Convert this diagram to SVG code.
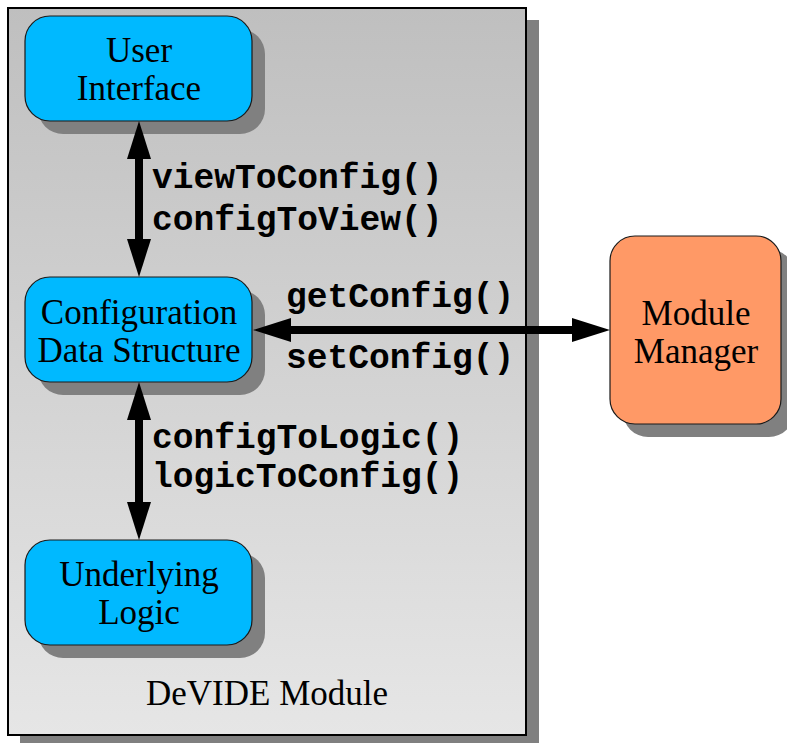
<svg xmlns="http://www.w3.org/2000/svg" width="787" height="743" viewBox="0 0 787 743">
<style>
.node{stroke:#1a1a1a;stroke-width:1.2}
.blue{fill:#00b9ff}
.orange{fill:#ff9966}
.shadow{fill:#808080}
.lbl{font-family:"Liberation Serif","Times New Roman",serif;font-size:35px;fill:#000;text-anchor:middle}
.code{font-family:"Liberation Mono","Courier New",monospace;font-size:34.6px;font-weight:bold;fill:#000}
.conn{stroke:#000;stroke-width:8;fill:none}
</style>
<defs>
<linearGradient id="bg" x1="0" y1="0" x2="0" y2="1">
<stop offset="0" stop-color="#bfbfbf"/>
<stop offset="1" stop-color="#e6e6e6"/>
</linearGradient>
</defs>
<rect width="787" height="743" fill="#fff"/>
<g id="devide-module">
<rect class="shadow" x="20" y="20" width="519" height="723"/>
<rect x="8" y="8" width="518" height="727" fill="url(#bg)" stroke="#000" stroke-width="2"/>
<text class="lbl" x="267" y="705">DeVIDE Module</text>
</g>
<g id="user-interface">
<rect class="shadow" x="38" y="29" width="227" height="105" rx="25"/>
<rect class="node blue" x="25" y="16" width="227" height="105" rx="25"/>
<text class="lbl" x="139" y="62">User</text>
<text class="lbl" x="139" y="100">Interface</text>
</g>
<g id="config-data-structure">
<rect class="shadow" x="38" y="290" width="227" height="105" rx="25"/>
<rect class="node blue" x="25" y="277" width="227" height="105" rx="25"/>
<text class="lbl" x="139" y="324">Configuration</text>
<text class="lbl" x="139" y="362">Data Structure</text>
</g>
<g id="underlying-logic">
<rect class="shadow" x="38" y="553" width="227" height="105" rx="25"/>
<rect class="node blue" x="25" y="540" width="227" height="105" rx="25"/>
<text class="lbl" x="139" y="586">Underlying</text>
<text class="lbl" x="139" y="624">Logic</text>
</g>
<g id="module-manager">
<rect class="shadow" x="623" y="249" width="171" height="188" rx="25"/>
<rect class="node orange" x="610" y="236" width="171" height="188" rx="25"/>
<text class="lbl" x="696" y="325">Module</text>
<text class="lbl" x="696" y="363">Manager</text>
</g>
<g id="connectors">
<line class="conn" x1="139" y1="155" x2="139" y2="243"/>
<polygon points="139,121 127,159 151,159"/>
<polygon points="139,277 127,239 151,239"/>
<text class="code" x="152" y="188">viewToConfig()</text>
<text class="code" x="152" y="230">configToView()</text>
<line class="conn" x1="139" y1="418" x2="139" y2="504"/>
<polygon points="139,382 127,420 151,420"/>
<polygon points="139,540 127,502 151,502"/>
<text class="code" x="152" y="448">configToLogic()</text>
<text class="code" x="152" y="487">logicToConfig()</text>
<line class="conn" x1="287" y1="330" x2="576" y2="330"/>
<polygon points="253,330 291,318 291,342"/>
<polygon points="610,330 572,318 572,342"/>
<text class="code" x="286" y="307">getConfig()</text>
<text class="code" x="286" y="368">setConfig()</text>
</g>
</svg>
